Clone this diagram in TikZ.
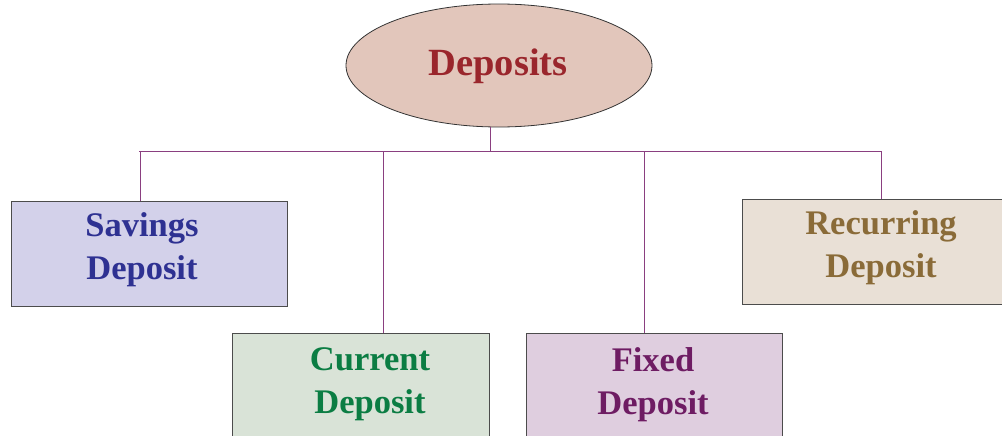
\documentclass[tikz,border=0pt]{standalone}
\usepackage{fontspec}
\setmainfont{Liberation Serif}
\usetikzlibrary{shapes.geometric}
\definecolor{ellfill}{HTML}{E2C6BB}
\definecolor{elltext}{HTML}{9A262C}
\definecolor{linecol}{HTML}{8A3F80}
\definecolor{savfill}{HTML}{D3D1EA}
\definecolor{savtext}{HTML}{2E3192}
\definecolor{curfill}{HTML}{D9E3D7}
\definecolor{curtext}{HTML}{0B7D43}
\definecolor{fixfill}{HTML}{DFCEDF}
\definecolor{fixtext}{HTML}{6E1C63}
\definecolor{recfill}{HTML}{E9E0D6}
\definecolor{rectext}{HTML}{8A6B38}
\tikzset{
  boxst/.style={draw=black!70, line width=0.9pt, rectangle, inner sep=0pt},
  lbl/.style={font=\bfseries\fontsize{34.5}{43}\selectfont, align=center},
  conn/.style={draw=linecol, line width=1pt}
}
\begin{document}
\begin{tikzpicture}[x=1pt,y=1pt]
\useasboundingbox (0,0) rectangle (1002,-436);
\node[ellipse, draw=black!80, line width=0.8pt, fill=ellfill, minimum width=306pt, minimum height=123pt, inner sep=0pt] (dep) at (499,-65.5) {};
\node[font=\bfseries\fontsize{38.5}{46}\selectfont, text=elltext] (deplbl) at (498,-66) {Deposits};
% boxes
\node[boxst, fill=savfill, minimum width=276pt, minimum height=105pt] (sav) at (149,-253.5) {};
\node[boxst, fill=curfill, minimum width=257pt, minimum height=110pt] (cur) at (360.5,-388) {};
\node[boxst, fill=fixfill, minimum width=256pt, minimum height=110pt] (fix) at (654,-388) {};
\node[boxst, fill=recfill, minimum width=262pt, minimum height=105pt] (rec) at (873,-251.5) {};
% labels
\node[lbl, text=savtext] (savl) at (142,-250) {Savings\\Deposit};
\node[lbl, text=curtext] (curl) at (370,-384) {Current\\Deposit};
\node[lbl, text=fixtext] (fixl) at (653,-385) {Fixed\\Deposit};
\node[lbl, text=rectext] (recl) at (881,-248) {Recurring\\Deposit};
% connectors
\coordinate (hub) at (490,-151);
\coordinate (hl) at (139,-151);
\coordinate (hr) at (881,-151);
\draw[conn] (dep.south -| hub) -- (hub);
\draw[conn] (hl) -- (hr);
\draw[conn] (140,-151) -- (sav.north -| 140,0);
\draw[conn] (383,-151) -- (cur.north -| 383,0);
\draw[conn] (644,-151) -- (fix.north -| 644,0);
\draw[conn] (881,-151) -- (rec.north -| 881,0);
\end{tikzpicture}
\end{document}
